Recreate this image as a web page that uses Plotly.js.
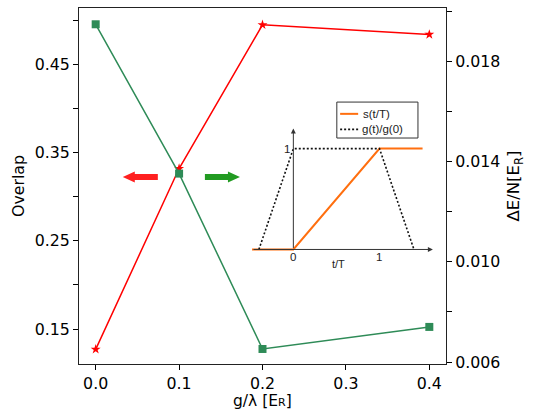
<!DOCTYPE html>
<html><head><meta charset="utf-8">
<script src="https://cdn.plot.ly/plotly-3.0.1.min.js"></script>
<style>html,body{margin:0;padding:0;background:#fff}#plot{width:534px;height:411px}</style>
</head><body><div id="plot"></div>
<script>
// ---- data ----
const gValues = [0.0, 0.1, 0.2, 0.4];
const overlap = [0.127, 0.332, 0.495, 0.484];        // red stars, left axis
const deltaE  = [0.01948, 0.01352, 0.00652, 0.0074]; // green squares, right axis
const xTicks = [0.0, 0.1, 0.2, 0.3, 0.4];
const xTickText = ['0.0', '0.1', '0.2', '0.3', '0.4'];
const yLeftTicks = [0.15, 0.20, 0.25, 0.30, 0.35, 0.40, 0.45, 0.50];
const yLeftText = ['0.15', '', '0.25', '', '0.35', '', '0.45', ''];
const yRightTicks = [0.006, 0.008, 0.010, 0.012, 0.014, 0.016, 0.018, 0.020];
const yRightText = ['0.006', '', '0.010', '', '0.014', '', '0.018', ''];
const xTitle = 'g/λ [E<span style="font-size:11px">R</span>]';
// inset schematic
const insetT_s = [-0.48, 0, 1, 1.5];
const insetS   = [0, 0, 1, 1];
const insetT_g = [-0.4, 0, 1, 1.4];
const insetG   = [0, 1, 1, 0];
const insetLegend = ['s(t/T)', 'g(t)/g(0)'];

// ---- layout helpers (pixel -> paper) ----
const L = 79.3, R = 445.7, T = 7.5, B = 364;
const fx = p => (p - L) / (R - L);
const fy = p => (B - p) / (B - T);

const tickFont = {family: 'DejaVu Sans', size: 15.8, color: '#000'};
const insetFont = {family: 'Liberation Sans', size: 11.5, color: '#222'};

const traces = [
  {x: gValues, y: overlap, xaxis: 'x', yaxis: 'y', mode: 'lines+markers', showlegend: false,
   line: {color: '#ff0000', width: 1.5}, marker: {symbol: 'star', size: 7.5, color: '#ff0000'}},
  {x: gValues, y: deltaE, xaxis: 'x', yaxis: 'y2', mode: 'lines+markers', showlegend: false,
   line: {color: '#2e8b57', width: 1.5}, marker: {symbol: 'square', size: 8, color: '#2e8b57'}},
  {x: insetT_s, y: insetS, xaxis: 'x3', yaxis: 'y3', mode: 'lines', showlegend: false,
   line: {color: '#ff6f0f', width: 2}},
  {x: insetT_g, y: insetG, xaxis: 'x3', yaxis: 'y3', mode: 'lines', showlegend: false,
   line: {color: '#111', width: 1.6, dash: '2px,2px'}}
];

// arrows (styling)
const yc = 176.7;
const redArrow = `M ${fx(123)},${fy(yc)} L ${fx(135)},${fy(yc-5.5)} L ${fx(135)},${fy(yc-3)} L ${fx(158)},${fy(yc-3)} L ${fx(158)},${fy(yc+3)} L ${fx(135)},${fy(yc+3)} L ${fx(135)},${fy(yc+5.5)} Z`;
const greenArrow = `M ${fx(240)},${fy(yc)} L ${fx(228)},${fy(yc-5.5)} L ${fx(228)},${fy(yc-3)} L ${fx(205)},${fy(yc-3)} L ${fx(205)},${fy(yc+3)} L ${fx(228)},${fy(yc+3)} L ${fx(228)},${fy(yc+5.5)} Z`;

const shapes = [
  {type: 'path', xref: 'paper', yref: 'paper', path: redArrow, fillcolor: '#ff2020', line: {width: 0}},
  {type: 'path', xref: 'paper', yref: 'paper', path: greenArrow, fillcolor: '#229b22', line: {width: 0}},
  // inset legend box
  {type: 'rect', xref: 'paper', yref: 'paper', x0: fx(336.7), x1: fx(417.7), y0: fy(137.7), y1: fy(101.7),
   line: {color: '#333', width: 1}, fillcolor: 'rgba(255,255,255,0)'},
  {type: 'line', xref: 'paper', yref: 'paper', x0: fx(340), x1: fx(358), y0: fy(113.5), y1: fy(113.5),
   line: {color: '#ff6f0f', width: 2}},
  {type: 'line', xref: 'paper', yref: 'paper', x0: fx(340), x1: fx(358), y0: fy(129), y1: fy(129),
   line: {color: '#111', width: 1.6, dash: '2px,2px'}}
];

const annotations = [
  // inset axes arrows
  {xref: 'x3', yref: 'y3', axref: 'x3', ayref: 'y3', x: 1.62, y: 0, ax: -0.48, ay: 0, text: '',
   showarrow: true, arrowhead: 2, arrowsize: 1, arrowwidth: 1, arrowcolor: '#333'},
  {xref: 'x3', yref: 'y3', axref: 'x3', ayref: 'y3', x: 0, y: 1.2, ax: 0, ay: 0, text: '',
   showarrow: true, arrowhead: 2, arrowsize: 1, arrowwidth: 1, arrowcolor: '#333'},
  {xref: 'x3', yref: 'y3', x: 0, y: -0.075, text: '0', showarrow: false, font: insetFont},
  {xref: 'x3', yref: 'y3', x: 1, y: -0.075, text: '1', showarrow: false, font: insetFont},
  {xref: 'x3', yref: 'y3', x: -0.07, y: 1, text: '1', showarrow: false, font: insetFont},
  {xref: 'x3', yref: 'y3', x: 0.52, y: -0.14, text: 't/T', showarrow: false, font: {family: 'Liberation Sans', size: 11, color: '#222'}},
  {xref: 'paper', yref: 'paper', x: fx(362), y: fy(113.5), xanchor: 'left', yanchor: 'middle', borderpad: 0,
   text: insetLegend[0], showarrow: false, font: insetFont},
  {xref: 'paper', yref: 'paper', x: fx(361), y: fy(129), xanchor: 'left', yanchor: 'middle', borderpad: 0,
   text: insetLegend[1], showarrow: false, font: insetFont},
  // x axis title
  {xref: 'paper', yref: 'paper', x: 0.5, y: fy(401), xanchor: 'center', yanchor: 'middle', borderpad: 0,
   text: xTitle, showarrow: false, font: {family: 'DejaVu Sans', size: 15.5, color: '#000'}}
];

const layout = {
  width: 534, height: 411,
  margin: {l: L, r: 534 - R, t: T, b: 411 - B, pad: 0},
  paper_bgcolor: '#fff', plot_bgcolor: '#fff',
  showlegend: false,
  xaxis: {range: [-0.02, 0.42], tickvals: xTicks, ticktext: xTickText, ticks: 'outside', ticklen: 5,
    tickcolor: '#000', showgrid: false, zeroline: false, showline: true, mirror: true, linecolor: '#222',
    linewidth: 1, tickfont: tickFont},
  yaxis: {range: [0.1104, 0.514], tickvals: yLeftTicks, ticktext: yLeftText, ticks: 'outside', ticklen: 5,
    tickcolor: '#000', showgrid: false, zeroline: false, showline: true, linecolor: '#222', linewidth: 1,
    tickfont: tickFont, title: {text: 'Overlap', font: tickFont, standoff: 6}},
  yaxis2: {range: [0.00592, 0.02013], overlaying: 'y', side: 'right', tickvals: yRightTicks, ticktext: yRightText,
    ticks: 'outside', ticklen: 5, tickcolor: '#000', showgrid: false, zeroline: false, showline: true,
    linecolor: '#222', linewidth: 1, tickfont: tickFont,
    title: {text: 'ΔE/N[E<sub>R</sub>]', font: {family: 'DejaVu Sans', size: 16.5, color: '#000'}, standoff: 8}},
  xaxis3: {domain: [fx(241.7), fx(439.5)], range: [-0.6, 1.7], anchor: 'y3', visible: false, fixedrange: true},
  yaxis3: {domain: [fy(279.6), fy(118)], range: [-0.3, 1.3], anchor: 'x3', visible: false, fixedrange: true},
  shapes: shapes,
  annotations: annotations
};

Plotly.newPlot('plot', traces, layout, {displayModeBar: false, staticPlot: true});
</script></body></html>
